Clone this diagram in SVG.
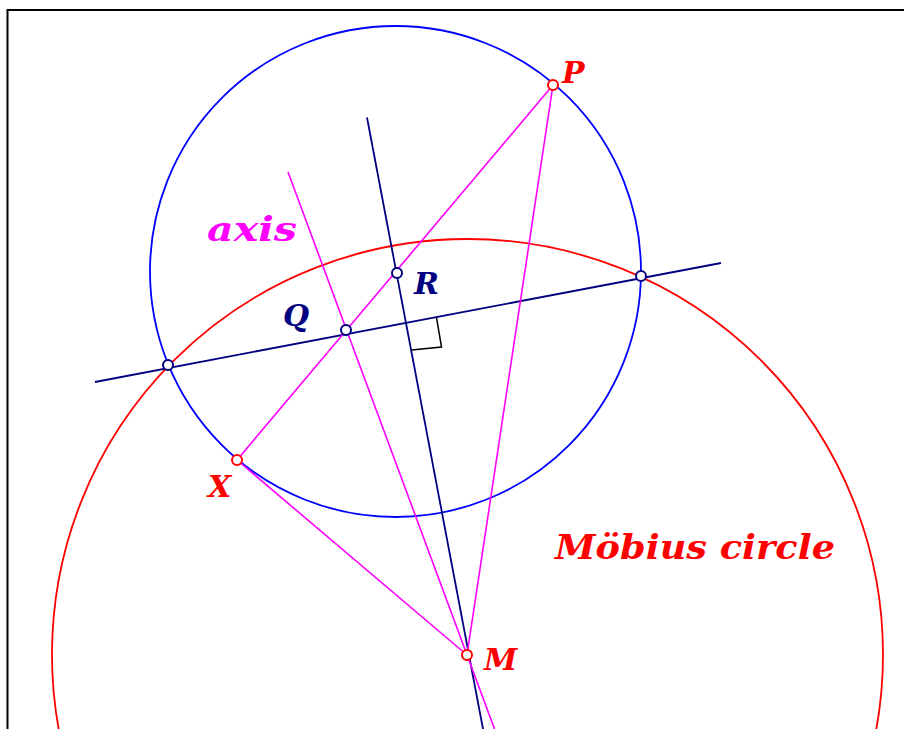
<svg xmlns="http://www.w3.org/2000/svg" width="904" height="729" viewBox="0 0 904 729">
<style>
.lbl{font-family:"DejaVu Serif","Liberation Serif",serif;font-style:italic;font-weight:bold;font-size:30px}
.big{font-size:33px}
.mag{stroke:#ff00ff;stroke-width:1.6;fill:none}
.navy{stroke:#000080;stroke-width:1.8;fill:none}
.pt{fill:#fff;stroke-width:2}
</style>
<rect x="0" y="0" width="904" height="729" fill="#fff"/>
<path d="M7.5,729 V10 H904" fill="none" stroke="#000" stroke-width="2"/>
<g id="circles">
<circle id="blue-circle" cx="395.5" cy="271.5" r="245.5" fill="none" stroke="#0000ff" stroke-width="1.8"/>
<circle id="mobius-circle" cx="467.5" cy="654.5" r="415.5" fill="none" stroke="#ff0000" stroke-width="1.8"/>
</g>
<g id="connectors">
<line class="navy" x1="95" y1="382" x2="721" y2="263"/>
<line class="navy" x1="367" y1="117.5" x2="483" y2="729"/>
<line class="mag" x1="553" y1="85" x2="237" y2="460"/>
<line class="mag" x1="553" y1="85" x2="467" y2="655"/>
<line class="mag" x1="237" y1="460" x2="467" y2="655"/>
<line class="mag" x1="288" y1="172" x2="494.5" y2="729"/>
<path d="M436.5,317.5 L441.5,347 L411.5,350" fill="none" stroke="#000" stroke-width="1.5"/>
</g>
<g id="node-int1"><circle class="pt" cx="168" cy="365" r="5" stroke="#000080"/></g>
<g id="node-int2"><circle class="pt" cx="641" cy="276" r="5" stroke="#000080"/></g>
<g id="node-Q"><circle class="pt" cx="346" cy="330" r="5" stroke="#000080"/><text class="lbl" x="283" y="326" fill="#000080">Q</text></g>
<g id="node-R"><circle class="pt" cx="397" cy="273" r="5" stroke="#000080"/><text class="lbl" x="414" y="294" fill="#000080">R</text></g>
<g id="node-P"><circle class="pt" cx="553" cy="85" r="5" stroke="#ff0000"/><text class="lbl" x="562" y="83" fill="#ff0000">P</text></g>
<g id="node-X"><circle class="pt" cx="237" cy="460" r="5" stroke="#ff0000"/><text class="lbl" x="208" y="497" fill="#ff0000">X</text></g>
<g id="node-M"><circle class="pt" cx="467" cy="655" r="5" stroke="#ff0000"/><text class="lbl" x="484" y="670" fill="#ff0000">M</text></g>
<g id="label-axis"><text class="lbl big" x="207" y="241" fill="#ff00ff" textLength="90" lengthAdjust="spacingAndGlyphs">axis</text></g>
<g id="label-mobius"><text class="lbl big" x="555" y="559" fill="#ff0000" textLength="280" lengthAdjust="spacingAndGlyphs">Möbius circle</text></g>
</svg>
